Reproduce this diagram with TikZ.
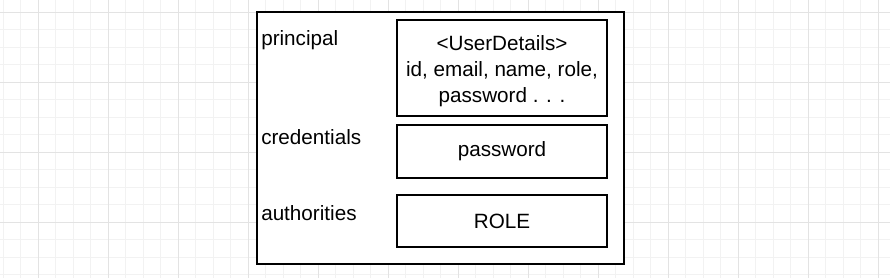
\documentclass[tikz,border=0pt]{standalone}
\usepackage{fontspec}
\setmainfont{Liberation Sans}
\begin{document}
\begin{tikzpicture}[x=0.75pt, y=-0.75pt,
    minorline/.style={draw=gray!10, line width=0.75pt},
    majorline/.style={draw=gray!22, line width=0.75pt},
    fieldbox/.style={draw, line width=1.5pt, fill=white, minimum width=210.6*0.75pt, align=center, inner sep=0pt, font=\fontsize{15.5}{19.4}\selectfont},
    fieldlabel/.style={anchor=base west, inner sep=0pt, font=\fontsize{15.5}{19.4}\selectfont}]
    \useasboundingbox (0,0) rectangle (890,278);
    \fill[white] (0,0) rectangle (890,278);

    % Background grid
    \foreach \gx in {0,...,50} {
        \draw[minorline] (3.3+17.5*\gx,0) -- (3.3+17.5*\gx,278);
    }
    \foreach \gy in {0,...,15} {
        \draw[minorline] (0,12.3+17.5*\gy) -- (890,12.3+17.5*\gy);
    }
    \foreach \gx in {0,...,12} {
        \draw[majorline] (38.3+70*\gx,0) -- (38.3+70*\gx,278);
    }
    \foreach \gy in {0,...,3} {
        \draw[majorline] (0,12.3+70*\gy) -- (890,12.3+70*\gy);
    }

    % Authentication object
    \node[draw, line width=1.5pt, fill=white, minimum width=367.3*0.75pt, minimum height=252*0.75pt, inner sep=0pt] (auth) at (440.35,138.3) {};

    % Field names
    \node[fieldlabel] (principal) at (261,46) {principal};
    \node[fieldlabel] (credentials) at (261,145) {credentials};
    \node[fieldlabel] (authorities) at (261,220) {authorities};

    % Field values
    \node[fieldbox, minimum height=96*0.75pt] (details) at (502,68) {\rule{0pt}{16pt}<UserDetails>\\id, email, name, role,\\password . . .};
    \node[fieldbox, minimum height=52.7*0.75pt] (password) at (502,151.35) {password};
    \node[fieldbox, minimum height=52.3*0.75pt] (role) at (502,221.15) {ROLE};
\end{tikzpicture}
\end{document}
